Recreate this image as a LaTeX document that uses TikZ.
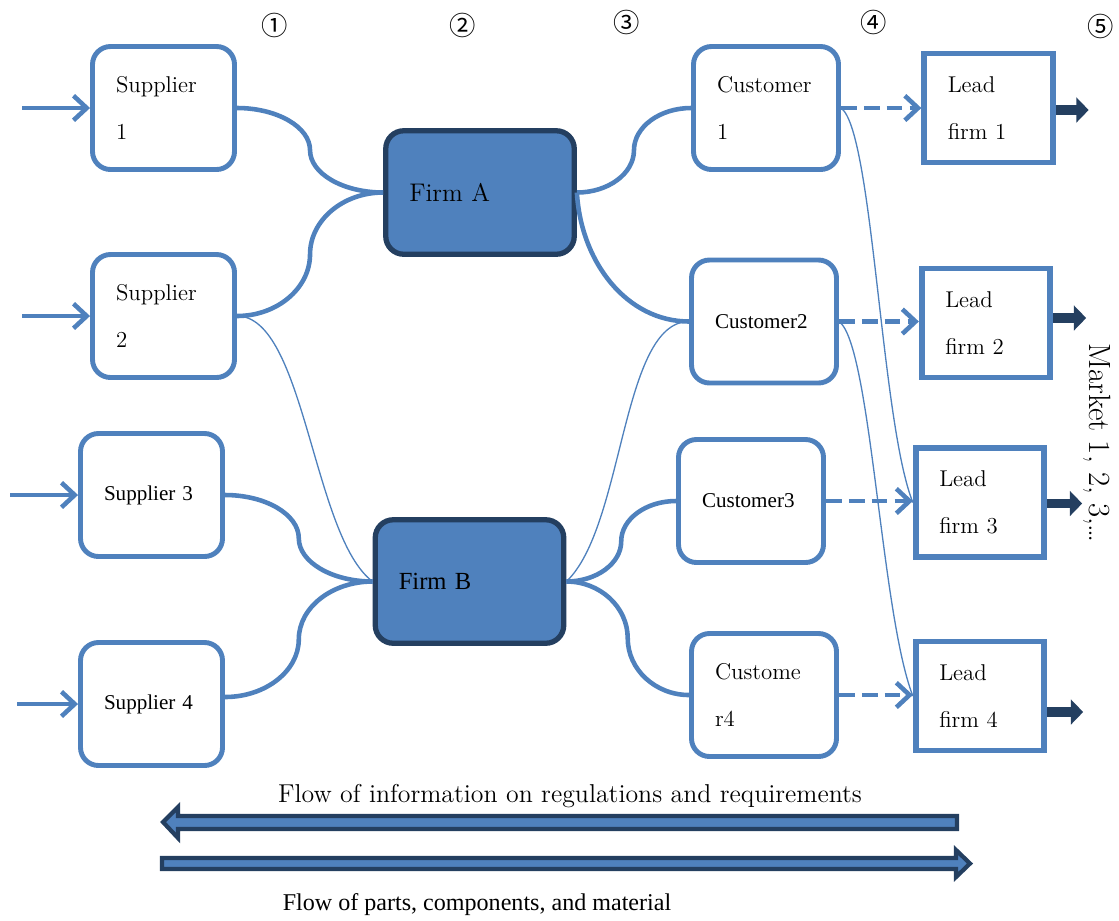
\documentclass[tikz,border=0pt]{standalone}
\usepackage{fontspec}
\newfontfamily\timesfont{Liberation Serif}
\newfontfamily\circfont{Noto Sans CJK JP}
\usetikzlibrary{calc,arrows.meta}
\definecolor{boxblue}{HTML}{4F81BD}
\definecolor{boxnavy}{HTML}{243F60}
\tikzset{
  my s bend/.style={to path={
      let \p1=(\tikztostart), \p2=(\tikztotarget),
          \p3=($(\p1)!0.5!(\p2)$) in
      .. controls ($(\p1)!0.55!(\x3,\y1)$) and ($(\p3)!0.55!(\x3,\y1)$) .. (\p3)
      .. controls ($(\p3)!0.55!(\x3,\y2)$) and ($(\p2)!0.55!(\x3,\y2)$) .. (\p2)
    }}
  }

\begin{document}
\begin{tikzpicture}[
    x=0.2mm, y=-0.2mm,
    rbox/.style={%
        draw=boxblue, line width=2.8pt, rounded corners=3.6mm,
        fill=white, align=left, inner xsep=4.7mm,
        font=\fontsize{13pt}{27pt}\selectfont},
    supplier/.style={rbox, text width=19mm, minimum height=24.6mm},
    customer/.style={rbox, text width=19.6mm, minimum height=24.6mm},
    firm/.style={%
        rbox, draw=boxnavy, fill=boxblue, line width=3pt,
        text width=28.3mm, minimum height=24.7mm,
        font=\fontsize{14.5pt}{17pt}\selectfont},
    leadfirm/.style={%
        draw=boxblue, line width=3.3pt, fill=white, align=left,
        inner xsep=4.7mm, text width=16.3mm, minimum height=21.8mm,
        font=\fontsize{13pt}{27pt}\selectfont},
    tnr/.style={font=\timesfont\fontsize{12pt}{14pt}\selectfont},
    thick link/.style={draw=boxblue, line width=2.6pt},
    thin link/.style={draw=boxblue, line width=0.75pt},
    in arrow/.style={draw=boxblue, line width=2.6pt,
        -{Straight Barb[length=7.5pt,width=14pt]}},
    dash arrow/.style={draw=boxblue, line width=2.6pt,
        dash pattern=on 9pt off 4pt,
        -{Straight Barb[length=7.5pt,width=14pt]}},
    out arrow/.style={draw=boxnavy, line width=5.5pt,
        -{Triangle[length=7pt,width=14pt]}},
    flow arrow/.style={draw=boxnavy, fill=boxblue, line width=2.4pt,
        line join=miter},
    stage/.style={font=\circfont\fontsize{15pt}{18pt}\selectfont},
]
    \useasboundingbox (0,0) rectangle (1119,920);
    %Stages
    \node[stage] (st1) at (275,25) {①};
    \node[stage] (st2) at (463,25) {②};
    \node[stage] (st3) at (627,22) {③};
    \node[stage] (st4) at (874,22) {④};
    \node[stage] (st5) at (1101,26) {⑤};
    %Suppliers
    \node[supplier] (s1) at (163.5,108) {Supplier\\1};
    \node[supplier] (s2) at (163.5,316) {Supplier\\2};
    \node[supplier, tnr] (s3) at (151.5,495) {Supplier 3};
    \node[supplier, tnr] (s4) at (151.5,704) {Supplier 4};
    %Firms
    \node[firm] (fA) at (480,192.5) {Firm A};
    \node[firm, font=\timesfont\fontsize{14pt}{17pt}\selectfont] (fB) at (469.5,581.5) {Firm B};
    %Customers
    \node[customer] (c1) at (766,108) {Customer\\1};
    \node[customer, tnr] (c2) at (764,321.5) {Customer2};
    \node[customer, tnr] (c3) at (751,501) {Customer3};
    \node[customer] (c4) at (764,695) {Custome\\r4};
    %Lead firms
    \node[leadfirm] (l1) at (988.5,108) {Lead\\firm 1};
    \node[leadfirm] (l2) at (986,323) {Lead\\firm 2};
    \node[leadfirm] (l3) at (980,502.5) {Lead\\firm 3};
    \node[leadfirm] (l4) at (980,696) {Lead\\firm 4};
    \node[rotate=-90, font=\fontsize{17.5pt}{20pt}\selectfont] (market) at (1097,443) {Market 1, 2, 3,\dots};

    %Inputs
    \draw[in arrow] ($(s1.west)+(-68,0)$) -- (s1.west);
    \draw[in arrow] ($(s2.west)+(-68,0)$) -- (s2.west);
    \draw[in arrow] ($(s3.west)+(-68,0)$) -- (s3.west);
    \draw[in arrow] ($(s4.west)+(-61,0)$) -- (s4.west);
    %Thick links
    \draw[thick link] (s1.east) to[my s bend] (fA.west);
    \draw[thick link] (s2.east) to[my s bend] (fA.west);
    \draw[thick link] (s3.east) to[my s bend] (fB.west);
    \draw[thick link] ($(s4.east)+(0,-7)$) to[my s bend] (fB.west);
    \draw[thick link] (fA.east) to[my s bend] (c1.west);
    \draw[thick link] (fA.east) .. controls +(4,70) and +(-62,0) .. (c2.west);
    \draw[thick link] (fB.east) to[my s bend] (c3.west);
    \draw[thick link] (fB.east) to[my s bend] (c4.west);
    %Thin links
    \draw[thin link] (s2.east) .. controls +(68,0) and +(-60,-45) .. (fB.west);
    \draw[thin link] (c2.west) .. controls +(-68,0) and +(58,-55) .. (fB.east);
    \draw[thin link] (c1.east) .. controls +(32,22) and +(-32,-80) .. (l3.west);
    \draw[thin link] (c2.east) .. controls +(32,22) and +(-32,-82) .. (l4.west);
    %Customer to lead firm
    \draw[dash arrow] (c1.east) -- (c1.east -| l1.west);
    \draw[dash arrow] (c2.east) -- (c2.east -| l2.west);
    \draw[dash arrow] (c3.east) -- (c3.east -| l3.west);
    \draw[dash arrow] (c4.east) -- (c4.east -| l4.west);
    %Markets
    \draw[out arrow] ($(l1.east)+(0,2)$) -- ++(33,0);
    \draw[out arrow] ($(l2.east)+(0,-5)$) -- ++(33,0);
    \draw[out arrow] ($(l3.east)+(0,1)$) -- ++(35,0);
    \draw[out arrow] ($(l4.east)+(0,16)$) -- ++(36,0);

    %Flows
    \draw[flow arrow] (163,822) -- (178,807) -- (178,816) -- (957,816)
        -- (957,829) -- (178,829) -- (178,838) -- cycle;
    \draw[flow arrow] (162,858) -- (956,858) -- (956,850) -- (970,863.5)
        -- (956,877) -- (956,869) -- (162,869) -- cycle;
    \node[font=\fontsize{14.7pt}{17pt}\selectfont] (infoflow) at (570,796) {Flow of information on regulations and requirements};
    \node[tnr, font=\timesfont\fontsize{13.7pt}{16pt}\selectfont] (partsflow) at (477,905) {Flow of parts, components, and material};
\end{tikzpicture}
\end{document}
